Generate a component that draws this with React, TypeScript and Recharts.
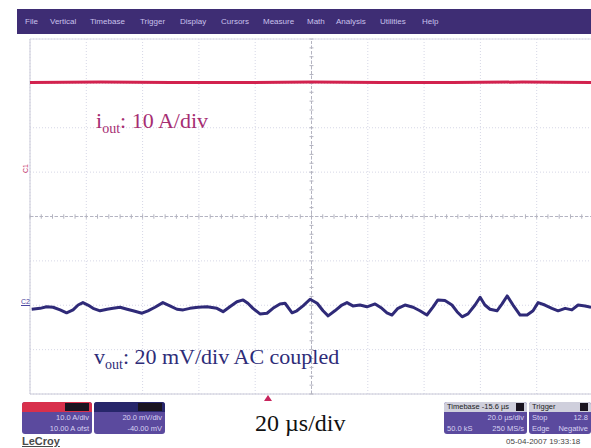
import React from "react";
import {
  LineChart,
  Line,
  XAxis,
  YAxis,
  CartesianGrid,
  ReferenceLine,
} from "recharts";

// time axis in µs (20 µs/div, 10 div)
const timeTicks = [0, 20, 40, 60, 80, 100, 120, 140, 160, 180, 200];
// vout axis in mV (20 mV/div, offset -40 mV, 8 div)
const voltTicks = [-40, -20, 0, 20, 40, 60, 80, 100, 120];

// iout trace (A), flat
const currentTime = [0, 25, 50, 75, 100, 125, 150, 175, 200];
const currentValues = [30.2, 30.3, 30.2, 30.2, 30.3, 30.2, 30.2, 30.3, 30.2];

// vout ripple (mV)
const rippleTime = [
  0.6, 3.6, 5.9, 8.2, 10.7, 13.0, 15.3, 17.1, 18.8, 20.6, 22.4, 24.9, 27.4,
  29.5, 32.0, 34.5, 36.6, 39.8, 41.9, 44.4, 47.2, 49.7, 52.2, 54.4, 56.8, 59.7,
  62.9, 66.4, 68.6, 71.0, 73.5, 75.7, 77.4, 79.2, 81.7, 84.2, 86.3, 88.8, 90.6,
  93.1, 94.8, 97.0, 99.5, 102.0, 104.1, 105.9, 108.3, 110.8, 112.6, 114.7,
  117.2, 119.7, 122.6, 125.0, 126.8, 128.6, 130.7, 133.2, 136.1, 138.5, 141.0,
  143.2, 144.9, 147.4, 149.9, 151.7, 153.5, 155.6, 158.1, 159.9, 161.6, 163.4,
  165.9, 167.7, 169.5, 171.6, 174.1, 176.6, 178.7, 180.5, 182.9, 185.4, 187.6,
  190.1, 192.5, 194.7, 197.2, 199.3,
];
const rippleValues = [
  -1.8, -1.4, -0.7, -0.9, -2.1, -3.4, -2.1, 0.1, 1.2, 0.1, -1.4, -2.5, -1.8,
  -1.4, -0.9, -1.8, -2.5, -3.6, -2.5, -0.9, 1.2, -0.3, -1.8, -2.1, -1.4, -0.9,
  -0.7, -1.4, -2.9, -0.7, 1.6, 2.4, 0.9, -1.4, -3.9, -3.6, -1.4, 0.6, 0.9,
  -3.4, -2.5, -0.3, 2.7, 0.9, -2.5, -4.8, -2.5, 0.1, 1.2, -0.3, 0.1, -0.7, 0.6,
  -1.4, -3.4, -4.4, -1.4, 0.1, -0.9, -2.5, -4.4, -0.7, 2.4, 2.1, 0.1, -2.9,
  -5.2, -3.9, 0.1, 3.6, 0.1, -1.8, -2.5, 0.6, 4.2, 0.1, -4.4, -4.4, -2.5, 1.2,
  0.1, -1.4, -2.5, -1.4, -2.1, 0.1, -0.3, -0.9,
];

const menuItems = [
  { label: "File", x: 25 },
  { label: "Vertical", x: 50 },
  { label: "Timebase", x: 90 },
  { label: "Trigger", x: 140 },
  { label: "Display", x: 180 },
  { label: "Cursors", x: 221 },
  { label: "Measure", x: 263 },
  { label: "Math", x: 307 },
  { label: "Analysis", x: 336 },
  { label: "Utilities", x: 380 },
  { label: "Help", x: 422 },
];

const currentData = currentTime.map((t, i) => ({ t, i: currentValues[i] }));
const rippleData = rippleTime.map((t, i) => ({ t, v: rippleValues[i] }));
const minorX = Array.from({ length: 51 }, (_, k) => k * 4);
const minorY = Array.from({ length: 41 }, (_, k) => -40 + k * 4);

const serif = "'Liberation Serif', 'DejaVu Serif', serif";
const sans = "'Liberation Sans', Arial, sans-serif";

function InfoBox({
  left,
  width,
  header,
  headerColor,
  headerText,
  lines,
}: {
  left: number;
  width: number;
  header: string;
  headerColor: string;
  headerText: string;
  lines: [string, string][];
}) {
  return (
    <div
      style={{
        position: "absolute",
        left,
        top: 402,
        width,
        height: 32,
        background: "#5b4a9e",
        borderRadius: 3,
        overflow: "hidden",
        fontFamily: sans,
        fontSize: 7.5,
        color: "#d8d2f2",
      }}
    >
      <div
        style={{
          height: 10,
          background: headerColor,
          color: headerText,
          lineHeight: "10px",
          paddingLeft: 3,
          position: "relative",
          whiteSpace: "nowrap",
        }}
      >
        {header}
        <div
          style={{
            position: "absolute",
            right: 3,
            top: 1,
            width: header ? 8 : 24,
            height: 8,
            background: "#1a1420",
          }}
        />
      </div>
      {lines.map(([a, b], k) => (
        <div
          key={k}
          style={{
            display: "flex",
            justifyContent: "space-between",
            padding: "0 3px",
            lineHeight: "11px",
            whiteSpace: "nowrap",
          }}
        >
          <span>{a}</span>
          <span>{b}</span>
        </div>
      ))}
    </div>
  );
}

export default function App() {
  return (
    <div
      style={{
        position: "relative",
        width: 591,
        height: 448,
        overflow: "hidden",
        background: "#ffffff",
      }}
    >
      <style>{"body{margin:0}"}</style>
      {/* menu bar */}
      <div
        style={{
          position: "absolute",
          left: 17,
          top: 9,
          width: 580,
          height: 25,
          background: "#3e2d74",
        }}
      >
        {menuItems.map((m) => (
          <span
            key={m.label}
            style={{
              position: "absolute",
              left: m.x - 17,
              top: 8,
              fontFamily: sans,
              fontSize: 8,
              color: "#c9c1ec",
            }}
          >
            {m.label}
          </span>
        ))}
      </div>

      <div style={{ position: "absolute", left: 0, top: 0 }}>
        <LineChart
          width={600}
          height={448}
          margin={{ top: 39, right: 7, bottom: 54, left: 30 }}
        >
          <XAxis
            dataKey="t"
            type="number"
            domain={[0, 200]}
            ticks={timeTicks}
            hide
            allowDuplicatedCategory={false}
          />
          <YAxis yAxisId="v" type="number" domain={[-40, 120]} ticks={voltTicks} hide />
          <YAxis yAxisId="i" type="number" domain={[-40, 40]} hide />
          <CartesianGrid yAxisId="v" stroke="#d6d7e6" strokeDasharray="1 2" />
          <ReferenceLine yAxisId="v" x={0} stroke="#cacad8" />
          <ReferenceLine yAxisId="v" y={-40} stroke="#cacad8" />
          <ReferenceLine yAxisId="v" y={120} stroke="#dcdce8" />
          <ReferenceLine yAxisId="v" x={100} stroke="#b4b4c0" strokeDasharray="3 2" />
          <ReferenceLine yAxisId="v" y={40} stroke="#b4b4c0" strokeDasharray="3 2" />
          {minorX.map((t) => (
            <ReferenceLine
              key={"mx" + t}
              yAxisId="v"
              segment={[
                { x: t, y: 39 },
                { x: t, y: 41 },
              ]}
              stroke="#b4b4c0"
            />
          ))}
          {minorY.map((v) => (
            <ReferenceLine
              key={"my" + v}
              yAxisId="v"
              segment={[
                { x: 99.3, y: v },
                { x: 100.7, y: v },
              ]}
              stroke="#b4b4c0"
            />
          ))}
          <Line
            yAxisId="i"
            data={currentData}
            dataKey="i"
            stroke="#d2224e"
            strokeWidth={3}
            dot={false}
            isAnimationActive={false}
          />
          <Line
            yAxisId="v"
            data={rippleData}
            dataKey="v"
            stroke="#2f2a78"
            strokeWidth={3}
            strokeLinejoin="round"
            dot={false}
            isAnimationActive={false}
          />
        </LineChart>
      </div>

      {/* channel markers */}
      <div
        style={{
          position: "absolute",
          left: 21,
          top: 165,
          fontFamily: sans,
          fontSize: 7,
          color: "#c0306a",
          transform: "rotate(-90deg)",
        }}
      >
        C1
      </div>
      <div
        style={{
          position: "absolute",
          left: 21,
          top: 298,
          fontFamily: sans,
          fontSize: 7,
          color: "#4a44a0",
          textDecoration: "underline",
        }}
      >
        C2
      </div>

      {/* annotations */}
      <div
        style={{
          position: "absolute",
          left: 96,
          top: 108,
          fontFamily: serif,
          fontSize: 22,
          color: "#a62d72",
          whiteSpace: "nowrap",
        }}
      >
        i<sub style={{ fontSize: 14 }}>out</sub>: 10 A/div
      </div>
      <div
        style={{
          position: "absolute",
          left: 94,
          top: 344,
          fontFamily: serif,
          fontSize: 22,
          color: "#2e2c78",
          whiteSpace: "nowrap",
        }}
      >
        v<sub style={{ fontSize: 14 }}>out</sub>: 20 mV/div AC coupled
      </div>
      <div
        style={{
          position: "absolute",
          left: 255,
          top: 410,
          fontFamily: serif,
          fontSize: 24,
          color: "#111",
          whiteSpace: "nowrap",
        }}
      >
        20 µs/div
      </div>

      {/* trigger marker */}
      <svg
        style={{ position: "absolute", left: 264, top: 395 }}
        width={8}
        height={6}
      >
        <polygon points="4,0 8,6 0,6" fill="#c8245c" />
      </svg>

      <InfoBox
        left={22}
        width={70}
        header=""
        headerColor="#d8304c"
        headerText="#fff"
        lines={[
          ["", "10.0 A/div"],
          ["", "10.00 A ofst"],
        ]}
      />
      <InfoBox
        left={94}
        width={71}
        header=""
        headerColor="#27266a"
        headerText="#fff"
        lines={[
          ["", "20.0 mV/div"],
          ["", "-40.00 mV"],
        ]}
      />
      <InfoBox
        left={444}
        width={83}
        header="Timebase -15.6 µs"
        headerColor="#cfcfdc"
        headerText="#222"
        lines={[
          ["", "20.0 µs/div"],
          ["50.0 kS", "250 MS/s"],
        ]}
      />
      <InfoBox
        left={529}
        width={62}
        header="Trigger"
        headerColor="#cfcfdc"
        headerText="#222"
        lines={[
          ["Stop", "12.8"],
          ["Edge", "Negative"],
        ]}
      />

      <div
        style={{
          position: "absolute",
          left: 22,
          top: 435,
          fontFamily: sans,
          fontSize: 11,
          fontWeight: "bold",
          color: "#4a4a4a",
          textDecoration: "underline",
        }}
      >
        LeCroy
      </div>
      <div
        style={{
          position: "absolute",
          left: 506,
          top: 437,
          fontFamily: sans,
          fontSize: 8,
          color: "#444",
          whiteSpace: "nowrap",
        }}
      >
        05-04-2007 19:33:18
      </div>
    </div>
  );
}
